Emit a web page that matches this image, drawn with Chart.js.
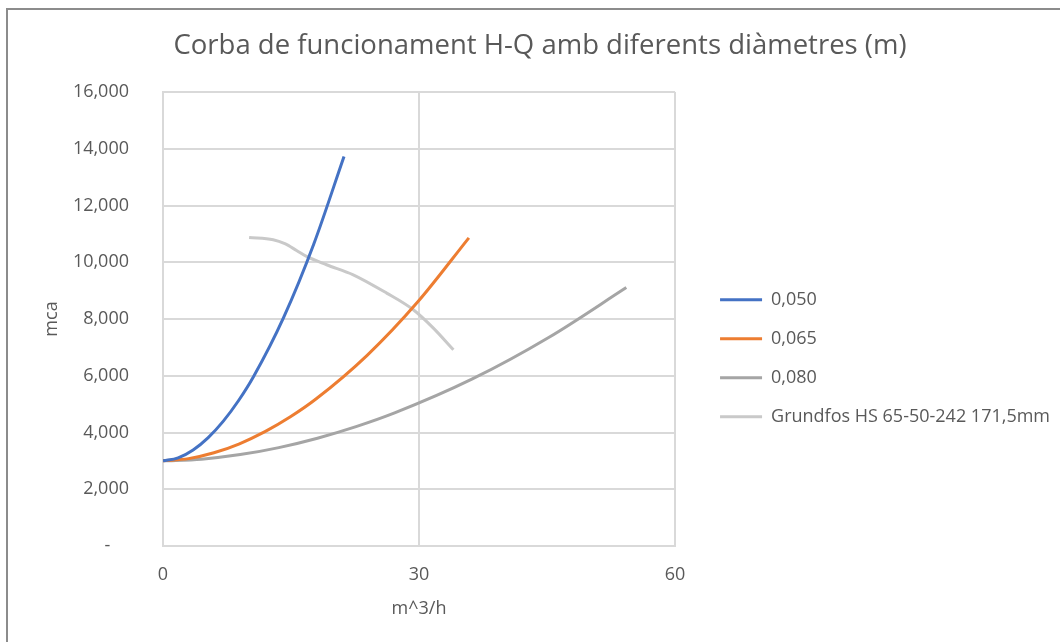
<!DOCTYPE html>
<html lang="ca">
<head>
<meta charset="UTF-8">
<title>Corba de funcionament H-Q</title>
<script src="https://cdn.jsdelivr.net/npm/chart.js@4.4.0/dist/chart.umd.min.js"></script>
<style>
    html, body { margin: 0; padding: 0; background: #fff; }
    .frame { position: relative; width: 1060px; height: 642px; overflow: hidden; }
    .edge {
        position: absolute; left: 6px; top: 8px; right: -10px; bottom: -10px;
        border-left: 2px solid #8c8c8c; border-top: 2px solid #8c8c8c;
    }
    canvas { position: absolute; left: 0; top: 0; }
</style>
</head>
<body>
<div class="frame">
    <div class="edge"></div>
    <canvas id="hq" width="1060" height="642"></canvas>
</div>
<script>
    // Series labels and colours
    const seriesNames = ['0,050', '0,065', '0,080', 'Grundfos HS 65-50-242 171,5mm'];
    const seriesColors = ['#4472C4', '#ED7D31', '#A5A5A5', '#C9C9C9'];

    // Pipe curves (Q in m^3/h, H in mca)
    const q050 = [0, 1.77, 3.53, 5.30, 7.07, 8.84, 10.60, 14.14, 17.67, 21.21];
    const h050 = [3000, 3108, 3387, 3822, 4401, 5119, 5966, 8058, 10645, 13730];

    const q065 = [0, 2.99, 5.97, 8.96, 11.95, 14.93, 17.92, 23.89, 29.86, 35.84];
    const h065 = [3000, 3079, 3285, 3603, 4030, 4553, 5179, 6711, 8606, 10860];

    const q080 = [0, 4.52, 9.05, 13.57, 18.10, 22.62, 27.14, 36.19, 45.24, 54.29];
    const h080 = [3000, 3061, 3221, 3468, 3798, 4206, 4690, 5878, 7357, 9107];

    // Pump curve
    const qPump = [10.09, 12.91, 14.28, 15.65, 16.82, 19.17, 22.29, 26.21, 29.33, 31.68, 34.03];
    const hPump = [10875, 10794, 10653, 10416, 10205, 9912, 9559, 8913, 8325, 7679, 6914];

    // Axes
    const xMin = 0, xMax = 60, xStep = 30;
    const yMin = 0, yMax = 16000, yStep = 2000;

    const FONT = '"Open Sans", "Noto Sans", sans-serif';
    const TEXT = '#595959';
    const GRID = '#d9d9d9';

    function toPoints(xs, ys) {
        return xs.map((x, i) => ({ x: x, y: ys[i] }));
    }

    const seriesData = [
        toPoints(q050, h050),
        toPoints(q065, h065),
        toPoints(q080, h080),
        toPoints(qPump, hPump)
    ];

    const datasets = seriesData.map((pts, i) => ({
        label: seriesNames[i],
        data: pts,
        showLine: true,
        borderColor: seriesColors[i],
        backgroundColor: seriesColors[i],
        borderWidth: 3,
        pointRadius: 0,
        pointHoverRadius: 0,
        cubicInterpolationMode: 'monotone',
        fill: false
    }));

    new Chart(document.getElementById('hq'), {
        type: 'scatter',
        data: { datasets: datasets },
        options: {
            responsive: false,
            animation: false,
            devicePixelRatio: 1,
            layout: { padding: { left: 20, right: 0, top: 0, bottom: 0 } },
            scales: {
                x: {
                    type: 'linear',
                    min: xMin,
                    max: xMax,
                    ticks: {
                        stepSize: xStep,
                        padding: 18,
                        color: TEXT,
                        font: { family: FONT, size: 18 }
                    },
                    grid: { color: GRID, lineWidth: 2, drawTicks: false },
                    border: { color: GRID, width: 2 },
                    title: {
                        display: true,
                        text: 'm^3/h',
                        color: TEXT,
                        font: { family: FONT, size: 18 },
                        padding: { top: 0, bottom: 22 }
                    },
                    afterFit: s => { s.height = 96; }
                },
                y: {
                    min: yMin,
                    max: yMax,
                    ticks: {
                        stepSize: yStep,
                        padding: 34,
                        color: TEXT,
                        font: { family: FONT, size: 18 },
                        callback: v => v === 0 ? '-    ' : v.toLocaleString('en-US')
                    },
                    grid: { color: GRID, lineWidth: 2, drawTicks: false },
                    border: { color: GRID, width: 2 },
                    title: {
                        display: true,
                        text: 'mca',
                        color: TEXT,
                        font: { family: FONT, size: 18 },
                        padding: { top: 21, bottom: 0 }
                    },
                    afterFit: s => { s.width = 143; }
                },
                // empty spacer between plot and legend
                gap: {
                    type: 'linear',
                    position: 'right',
                    display: true,
                    grid: { display: false, drawTicks: false },
                    border: { display: false },
                    ticks: { display: false },
                    afterFit: s => { s.width = 24; }
                }
            },
            plugins: {
                title: {
                    display: true,
                    text: 'Corba de funcionament H-Q amb diferents diàmetres (m)',
                    color: TEXT,
                    font: { family: FONT, size: 27.5, weight: 'normal' },
                    padding: { top: 30, bottom: 29 }
                },
                legend: {
                    position: 'right',
                    align: 'center',
                    maxWidth: 420,
                    title: {
                        display: true,
                        text: ' ',
                        font: { family: FONT, size: 18 },
                        padding: { top: 53, bottom: 0 }
                    },
                    labels: {
                        usePointStyle: true,
                        pointStyle: 'line',
                        pointStyleWidth: 42,
                        padding: 21,
                        color: TEXT,
                        font: { family: FONT, size: 18 }
                    }
                },
                tooltip: { enabled: false }
            }
        }
    });
</script>
</body>
</html>
